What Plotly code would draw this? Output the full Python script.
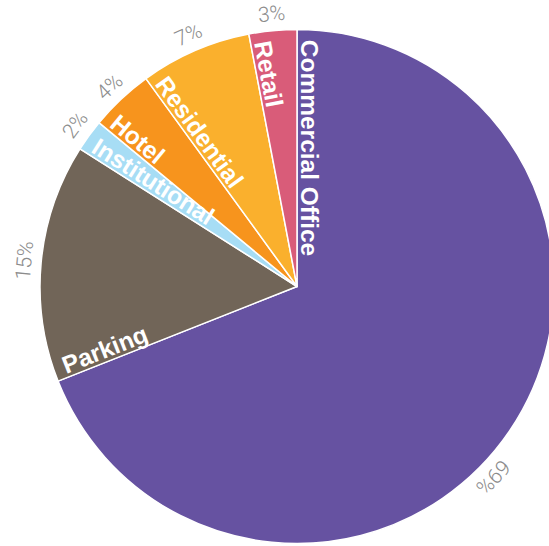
import math
import plotly.graph_objects as go

# ---- data ----
categories = ["Commercial Office", "Parking", "Institutional", "Hotel", "Residential", "Retail"]
shares = [69, 15, 2, 4, 7, 3]
pct_labels = ["69%", "15%", "2%", "4%", "7%", "3%"]

# ---- styles ----
colors = ["#6652a1", "#716558", "#a7ddf5", "#f7941d", "#fab02d", "#d95c79"]
pct_angle_shift = [10, 0, 0, 0, 0, 0]   # degrees, label placement tweak

W, H = 560, 546          # slightly wider than the window: the pie is cropped on the right
CX, CY = 297, 286.5
R = 257

# Arial-bold-like advance widths (per em) for estimating label length
ADV = {" ": .278, "C": .722, "H": .722, "I": .278, "O": .778, "P": .667, "R": .722,
       "a": .556, "c": .556, "d": .611, "e": .556, "f": .333, "g": .611, "i": .278,
       "k": .556, "l": .278, "m": .889, "n": .611, "o": .611, "r": .389, "s": .556,
       "t": .333, "u": .611}
LABEL_SIZE = 24.5
PCT_SIZE = 21


def to_paper(px, py):
    return px / W, 1 - py / H


def norm(a):
    a = a % 360
    return a - 360 if a > 180 else a


fig = go.Figure()
fig.add_trace(go.Pie(
    labels=categories, values=shares, sort=False, direction="clockwise", rotation=0,
    textinfo="none", hoverinfo="label+percent", showlegend=False,
    marker=dict(colors=colors, line=dict(color="white", width=1.5)),
    domain=dict(x=[(CX - R) / W, (CX + R) / W], y=[1 - (CY + R) / H, 1 - (CY - R) / H]),
))

total = sum(shares)
start = 0.0
annotations = []
for cat, v, pl, sh in zip(categories, shares, pct_labels, pct_angle_shift):
    span = 360.0 * v / total
    s = start
    m = start + span / 2 + sh
    start += span

    # radial category label along the start edge of the slice
    L = sum(ADV.get(ch, .56) for ch in cat) * LABEL_SIZE
    rad = math.radians(s)
    ux, uy = math.sin(rad), -math.cos(rad)
    tx, ty = math.cos(rad), math.sin(rad)
    rc = R - 10 - L / 2
    gap = 12
    px = CX + ux * rc + tx * gap
    py = CY + uy * rc + ty * gap
    x, y = to_paper(px, py)
    annotations.append(dict(
        x=x, y=y, xref="paper", yref="paper", text=cat, showarrow=False,
        textangle=norm(s + 90), xanchor="center", yanchor="middle",
        font=dict(family="Liberation Sans, Arial, sans-serif", size=LABEL_SIZE,
                  color="white", weight="bold"),
    ))

    # tangential percentage outside
    rad = math.radians(m)
    rp = R + 17
    px = CX + math.sin(rad) * rp
    py = CY - math.cos(rad) * rp
    x, y = to_paper(px, py)
    annotations.append(dict(
        x=x, y=y, xref="paper", yref="paper", text=pl, showarrow=False,
        textangle=norm(m), xanchor="center", yanchor="middle",
        font=dict(family="Roboto, Lato, sans-serif", size=PCT_SIZE, color="#8c8c8c", weight=300),
    ))

fig.update_layout(
    width=W, height=H, margin=dict(l=0, r=0, t=0, b=0),
    paper_bgcolor="white", plot_bgcolor="white",
    annotations=annotations,
)

fig.write_html(
    "out.html",
    config={"displayModeBar": False},
    post_script="document.body.style.margin='0';document.body.style.overflow='hidden';",
)
